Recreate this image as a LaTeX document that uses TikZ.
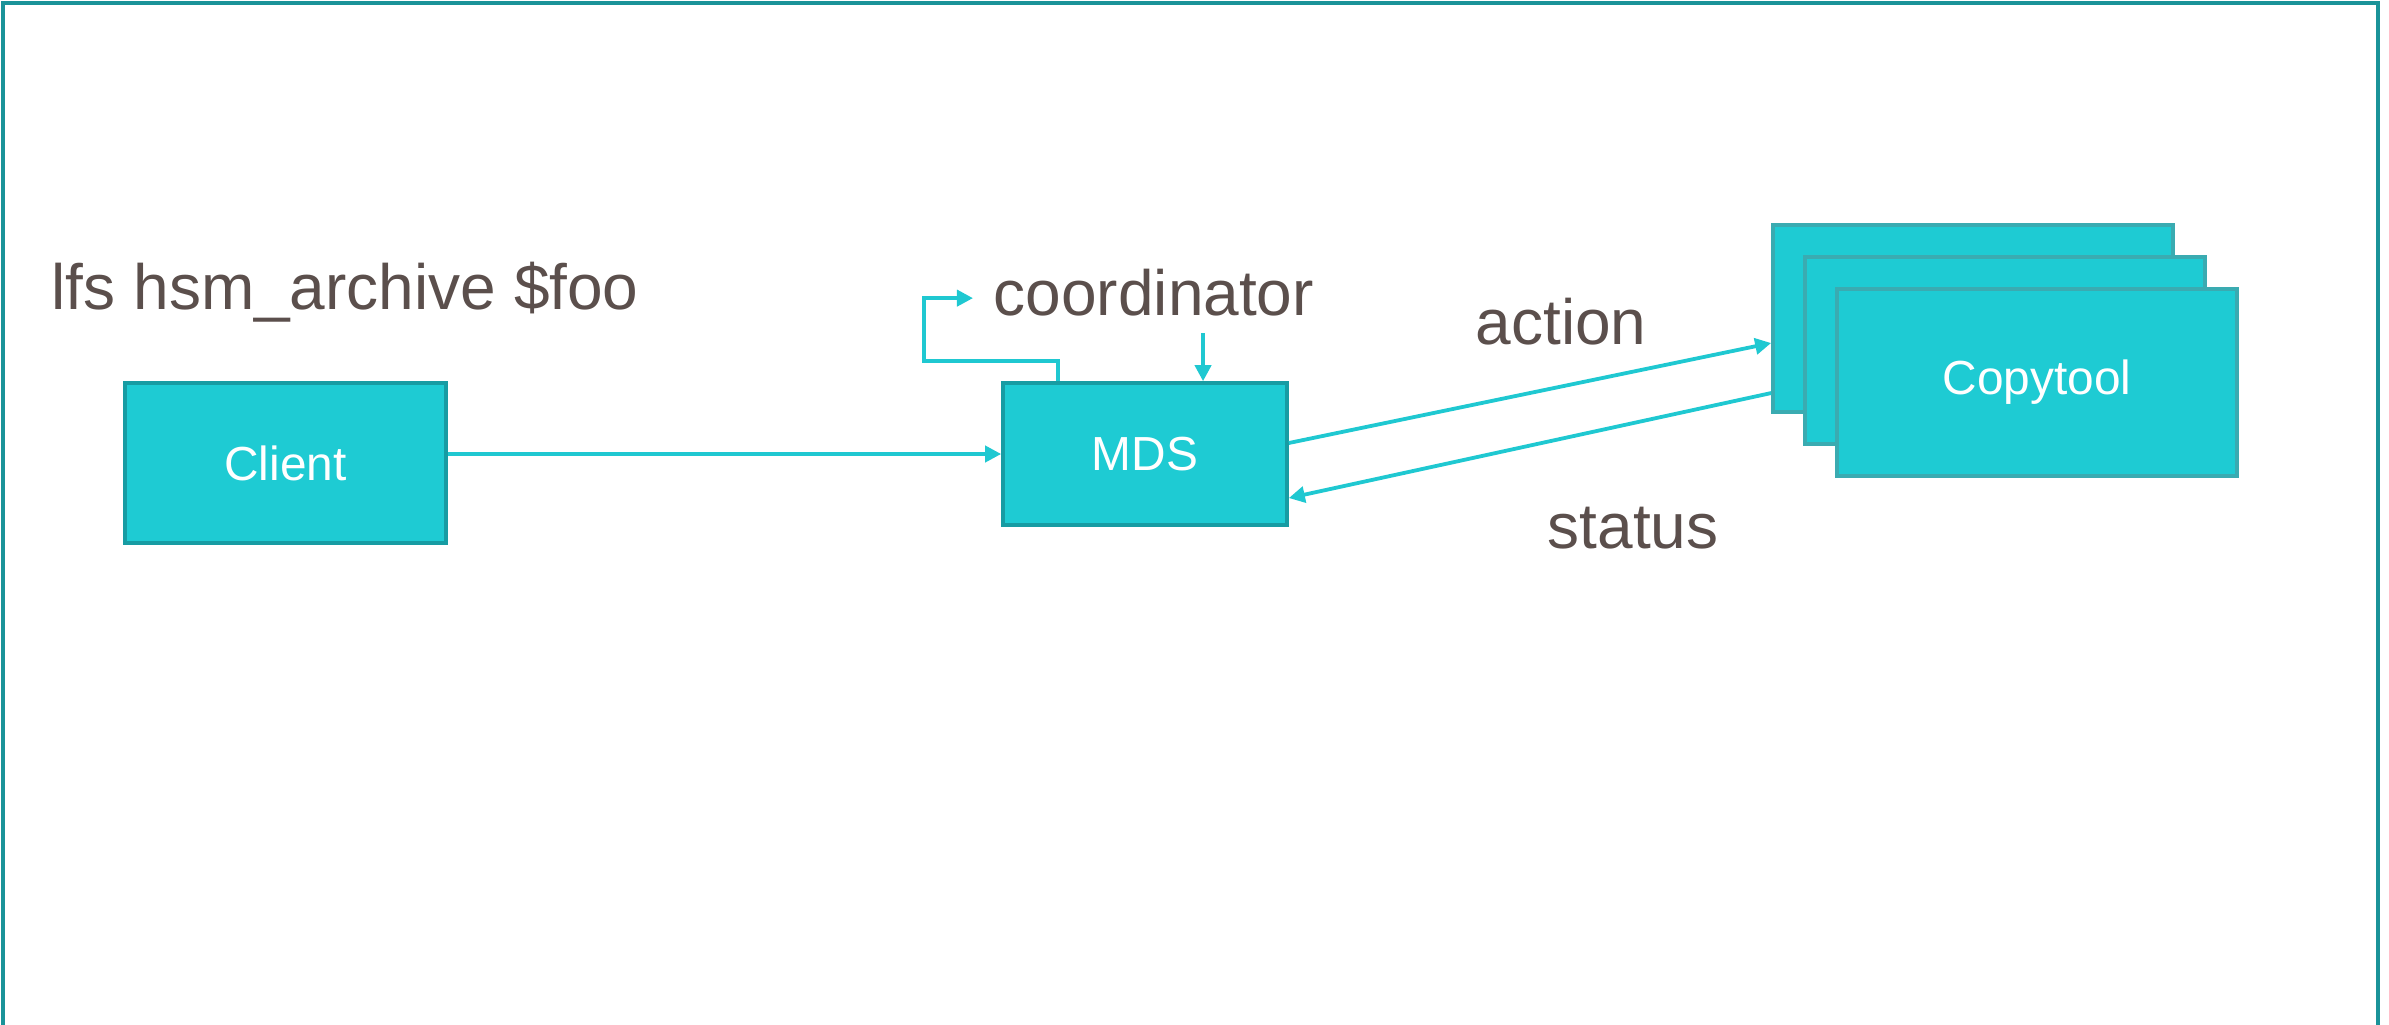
\documentclass[tikz,border=0pt]{standalone}
\usepackage{fontspec}
\setmainfont{Liberation Sans}
\usepackage{tikz}
\usetikzlibrary{arrows.meta}
\definecolor{boxfill}{HTML}{1ECBD3}
\definecolor{boxline}{HTML}{179CA3}
\definecolor{arrowcol}{HTML}{1FC8D1}
\definecolor{labelcol}{HTML}{5B4F4C}
\definecolor{framecol}{HTML}{1A9399}
\begin{document}
\begin{tikzpicture}[x=0.01cm,y=-0.01cm,
    box/.style={draw=boxline,fill=boxfill,line width=0.035cm,inner sep=0pt,text=white,font=\fontsize{13.6}{16}\selectfont},
    label/.style={text=labelcol,inner sep=0pt,font=\fontsize{18.2}{22}\selectfont},
    flow/.style={draw=arrowcol,line width=0.038cm,-{Triangle[length=0.16cm,width=0.16cm]}}]
    \useasboundingbox (0,0) rectangle (2389,1024);
    \draw[framecol,line width=0.04cm] (3,1040) -- (3,3) -- (2378,3) -- (2378,1040);
    \node[label,anchor=base west] (cmd) at (51,309) {lfs hsm\_archive \$foo};
    \node[box,minimum width=3.21cm,minimum height=1.6cm] (client) at (285.5,463) {Client};
    \node[box,minimum width=2.84cm,minimum height=1.42cm] (mds) at (1145,454) {MDS};
    \node[label,anchor=base west] (coord) at (993,315) {coordinator};
    \node[box,draw=boxline!85,minimum width=4cm,minimum height=1.87cm] (ct1) at (1973,318.5) {};
    \node[box,draw=boxline!85,minimum width=4cm,minimum height=1.87cm] (ct2) at (2005,350.5) {};
    \node[box,draw=boxline!85,minimum width=4cm,minimum height=1.87cm] (ct3) at (2037,382.5) {Copytool};
    \node[label,anchor=base west] (act) at (1475,344) {action};
    \node[label,anchor=base west] (stat) at (1547,548) {status};
    \draw[flow] (client.east |- mds.west) -- (mds.west);
    \draw[flow] ([xshift=-0.87cm]mds.north) -- ++(0,-20) -- ++(-134,0) |- ([xshift=-0.2cm,yshift=-0.06cm]coord.west);
    \draw[flow] ([xshift=0.58cm]mds.north) ++(0,-48) -- ([xshift=0.58cm]mds.north);
    \draw[flow] ([yshift=0.11cm]mds.east) -- ([yshift=-0.245cm]ct1.west);
    \draw[flow] ([yshift=-0.745cm]ct1.west) -- ([yshift=-0.44cm]mds.east);
\end{tikzpicture}
\end{document}
